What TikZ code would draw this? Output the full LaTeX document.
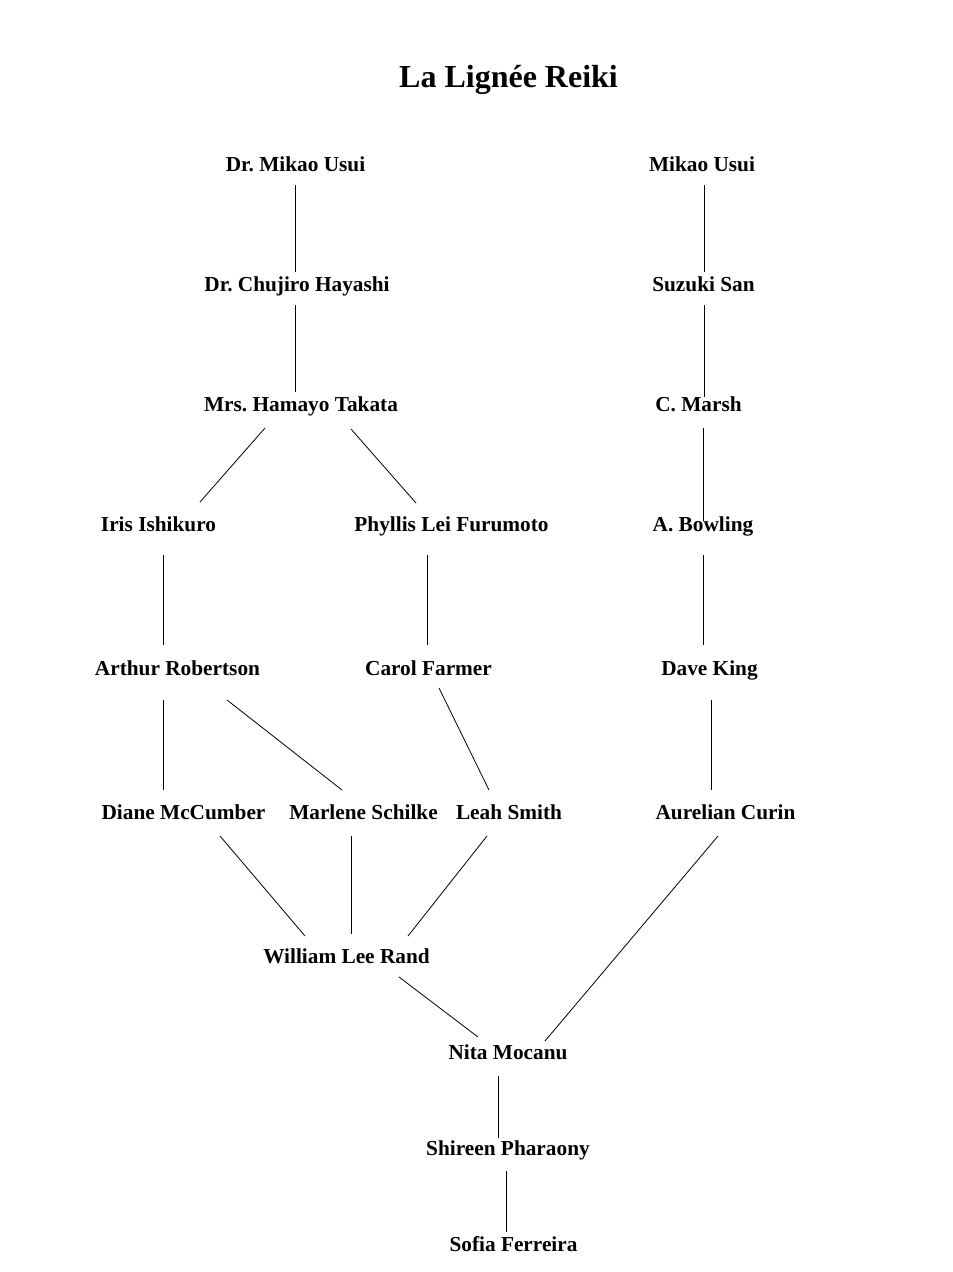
\documentclass[tikz,border=0pt]{standalone}
\usepackage{fontspec}
\setmainfont{Liberation Serif}
\frenchspacing
\begin{document}
\begin{tikzpicture}[x=1pt,y=-1pt,
  person/.style={anchor=base,inner sep=0pt,font=\fontsize{21.3}{24}\selectfont\bfseries},
  titlestyle/.style={anchor=base,inner sep=0pt,font=\fontsize{32}{36}\selectfont\bfseries},
  link/.style={draw=black,line width=0.8pt}]
\useasboundingbox[fill=white] (0,0) rectangle (953,1272);
\node[titlestyle] (title) at (508.5,87) {La Lignée Reiki};
\node[person] (usuiA) at (295.5,171) {Dr. Mikao Usui};
\node[person] (usuiB) at (702,171) {Mikao Usui};
\node[person] (hayashi) at (297,291) {Dr. Chujiro Hayashi};
\node[person] (suzuki) at (703.5,291) {Suzuki San};
\node[person] (takata) at (301,411) {Mrs. Hamayo Takata};
\node[person] (marsh) at (698.5,411) {C. Marsh};
\node[person] (iris) at (158.5,531) {Iris Ishikuro};
\node[person] (phyllis) at (451.5,531) {Phyllis Lei Furumoto};
\node[person] (bowling) at (703,531) {A. Bowling};
\node[person] (arthur) at (177.5,675) {Arthur Robertson};
\node[person] (carol) at (428.5,675) {Carol Farmer};
\node[person] (dave) at (709.5,675) {Dave King};
\node[person] (diane) at (183.5,819) {Diane McCumber};
\node[person] (marlene) at (363.5,819) {Marlene Schilke};
\node[person] (leah) at (509,819) {Leah Smith};
\node[person] (aurelian) at (725.5,819) {Aurelian Curin};
\node[person] (william) at (346.5,963) {William Lee Rand};
\node[person] (nita) at (508,1059) {Nita Mocanu};
\node[person] (shireen) at (508,1155) {Shireen Pharaony};
\node[person] (sofia) at (513.5,1251) {Sofia Ferreira};

\draw[link] ([shift={(-0.5,14)}]usuiA.base) -- ([shift={(-2,-19)}]hayashi.base);
\draw[link] ([shift={(-2,14)}]hayashi.base) -- ([shift={(-6,-19)}]takata.base);
\draw[link] ([shift={(-36,17)}]takata.base) -- ([shift={(41.5,-29)}]iris.base);
\draw[link] ([shift={(50,18)}]takata.base) -- ([shift={(-35.5,-28)}]phyllis.base);
\draw[link] ([shift={(4.5,24)}]iris.base) -- ([shift={(-14.5,-30)}]arthur.base);
\draw[link] ([shift={(-24.5,24)}]phyllis.base) -- ([shift={(-1.5,-30)}]carol.base);
\draw[link] ([shift={(-14.5,25)}]arthur.base) -- ([shift={(-20.5,-29)}]diane.base);
\draw[link] ([shift={(49.5,25)}]arthur.base) -- ([shift={(-21.5,-29)}]marlene.base);
\draw[link] ([shift={(10.5,13)}]carol.base) -- ([shift={(-20,-29)}]leah.base);
\draw[link] ([shift={(36.5,17)}]diane.base) -- ([shift={(-41.5,-27)}]william.base);
\draw[link] ([shift={(-12.5,17)}]marlene.base) -- ([shift={(4.5,-29)}]william.base);
\draw[link] ([shift={(-22,17)}]leah.base) -- ([shift={(61.5,-27)}]william.base);
\draw[link] ([shift={(52.5,14)}]william.base) -- ([shift={(-30,-22)}]nita.base);
\draw[link] ([shift={(-7.5,17)}]aurelian.base) -- ([shift={(37,-18)}]nita.base);
\draw[link] ([shift={(-10,17)}]nita.base) -- ([shift={(-10,-17)}]shireen.base);
\draw[link] ([shift={(-2,16)}]shireen.base) -- ([shift={(-7.5,-19)}]sofia.base);
\draw[link] ([shift={(2,14)}]usuiB.base) -- ([shift={(0.5,-19)}]suzuki.base);
\draw[link] ([shift={(0.5,14)}]suzuki.base) -- ([shift={(5.5,-14)}]marsh.base);
\draw[link] ([shift={(4.5,17)}]marsh.base) -- ([shift={(0,-10)}]bowling.base);
\draw[link] ([shift={(0,24)}]bowling.base) -- ([shift={(-6.5,-30)}]dave.base);
\draw[link] ([shift={(1.5,25)}]dave.base) -- ([shift={(-14.5,-29)}]aurelian.base);
\end{tikzpicture}
\end{document}
